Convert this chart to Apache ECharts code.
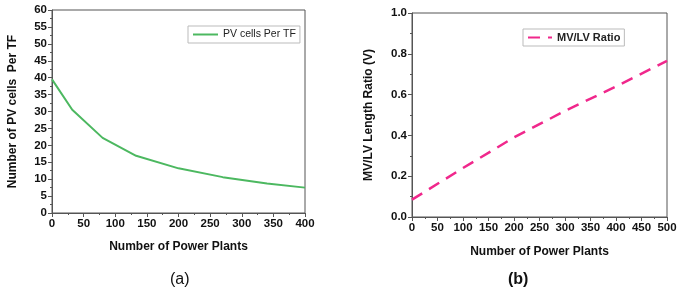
<!DOCTYPE html>
<html>
<head>
<meta charset="utf-8">
<script src="https://cdn.jsdelivr.net/npm/echarts@6/dist/echarts.min.js"></script>
<style>
  html, body { margin: 0; padding: 0; background: #fff; }
  #chart { width: 685px; height: 292px; }
</style>
</head>
<body>
<div id="chart"></div>
<script>
// (a) PV cells per transformer vs number of power plants
const plantsA = [0, 32, 80, 133, 200, 270, 340, 400];
const pvCells = [39.5, 30.5, 22.2, 16.9, 13.2, 10.6, 8.7, 7.5];
// (b) MV/LV length ratio vs number of power plants
const plantsB = [0, 100, 200, 300, 400, 500];
const mvlvRatio = [0.085, 0.24, 0.39, 0.52, 0.64, 0.765];

const font = "Liberation Sans";
const green = "#4cb860";
const pink = "#f0288c";

function axisBase() {
  return {
    axisLine: { show: true, lineStyle: { color: "#555", width: 1 } },
    axisTick: { show: true, length: 4, lineStyle: { color: "#555" } },
    minorTick: { show: true, splitNumber: 2, length: 2, lineStyle: { color: "#555" } },
    splitLine: { show: false },
    axisLabel: { color: "#111", fontFamily: font, fontWeight: "bold", fontSize: 11.5, margin: 5 },
    nameTextStyle: { color: "#111", fontFamily: font, fontWeight: "bold", fontSize: 12 }
  };
}

let chart = echarts.init(document.getElementById("chart"));
let option = {
  animation: false,
  backgroundColor: "#fff",
  grid: [
    { left: 52, top: 10, width: 253, height: 203, show: true, borderColor: "#555", borderWidth: 1 },
    { left: 412, top: 13, width: 255, height: 204, show: true, borderColor: "#555", borderWidth: 1 }
  ],
  legend: [
    {
      left: 188, top: 26, padding: [3, 4],
      borderColor: "#bbb", borderWidth: 1,
      itemWidth: 25, itemHeight: 10, itemGap: 4,
      itemStyle: { opacity: 0 },
      textStyle: { fontFamily: font, fontSize: 10.5, color: "#222" },
      data: ["PV cells Per TF"]
    },
    {
      left: 523, top: 29, padding: [3, 4],
      borderColor: "#bbb", borderWidth: 1,
      itemWidth: 24, itemHeight: 10,
      itemStyle: { opacity: 0 },
      textStyle: { fontFamily: font, fontSize: 11, fontWeight: "bold", color: "#222" },
      data: ["MV/LV Ratio"]
    }
  ],
  xAxis: [
    Object.assign(axisBase(), {
      gridIndex: 0, type: "value", min: 0, max: 400, interval: 50,
      name: "Number of Power Plants", nameLocation: "middle", nameGap: 28
    }),
    Object.assign(axisBase(), {
      gridIndex: 1, type: "value", min: 0, max: 500, interval: 50,
      name: "Number of Power Plants", nameLocation: "middle", nameGap: 29
    })
  ],
  yAxis: [
    Object.assign(axisBase(), {
      gridIndex: 0, type: "value", min: 0, max: 60, interval: 5,
      name: "Number of PV cells  Per TF", nameLocation: "middle", nameGap: 33
    }),
    Object.assign(axisBase(), {
      gridIndex: 1, type: "value", min: 0, max: 1, interval: 0.2,
      name: "MV/LV Length Ratio (V)", nameLocation: "middle", nameGap: 37,
      axisLabel: Object.assign(axisBase().axisLabel, {
        formatter: v => v.toFixed(1)
      })
    })
  ],
  series: [
    {
      name: "PV cells Per TF", type: "line", xAxisIndex: 0, yAxisIndex: 0,
      smooth: false, symbol: "none",
      lineStyle: { color: green, width: 2 }, itemStyle: { color: green },
      data: plantsA.map((x, i) => [x, pvCells[i]])
    },
    {
      name: "MV/LV Ratio", type: "line", xAxisIndex: 1, yAxisIndex: 1,
      smooth: false, symbol: "none",
      lineStyle: { color: pink, width: 2.5, type: [12, 8] }, itemStyle: { color: pink },
      data: plantsB.map((x, i) => [x, mvlvRatio[i]])
    }
  ],
  graphic: [
    { type: "text", left: 170, top: 272, style: { text: "(a)", font: "16px " + font, fill: "#111" } },
    { type: "text", left: 508, top: 272, style: { text: "(b)", font: "bold 16px " + font, fill: "#111" } }
  ]
};
chart.setOption(option);
</script>
</body>
</html>
